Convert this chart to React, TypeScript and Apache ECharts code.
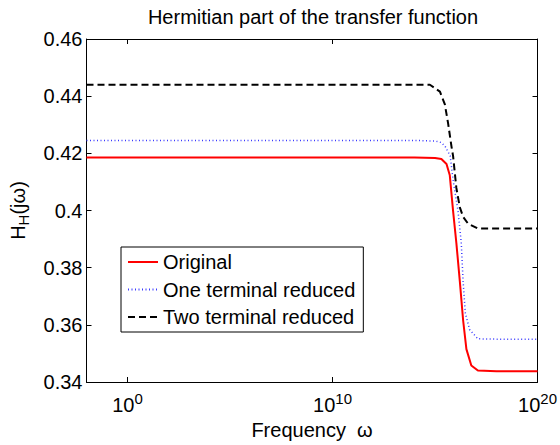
import React, { useEffect, useRef } from "react";
import * as echarts from "echarts";

// Frequency given as log10(omega) exponents
const originalX = [-2, 14, 15.0, 15.31, 15.56, 15.72, 15.88, 16.04, 16.21, 16.37, 16.53, 16.77, 17.09, 18, 20];
const originalY = [0.4185, 0.4185, 0.4184, 0.418, 0.4163, 0.4123, 0.3999, 0.3887, 0.3752, 0.3616, 0.3515, 0.3458, 0.344, 0.3438, 0.3438];

const oneTermX = [-2, 14, 15.0, 15.3, 15.49, 15.74, 15.88, 16.12, 16.28, 16.37, 16.48, 16.69, 17.09, 18, 20];
const oneTermY = [0.4245, 0.4245, 0.4243, 0.4238, 0.4225, 0.4191, 0.4107, 0.3999, 0.3887, 0.3752, 0.364, 0.3583, 0.3551, 0.355, 0.355];

const twoTermX = [-2, 14, 14.75, 15.24, 15.48, 15.64, 15.8, 15.88, 16.04, 16.21, 16.37, 16.61, 17.09, 18, 20];
const twoTermY = [0.444, 0.444, 0.444, 0.4416, 0.4371, 0.4304, 0.4225, 0.4191, 0.4079, 0.4011, 0.3978, 0.3954, 0.3937, 0.3937, 0.3937];

const xTickExponents = [0, 10, 20];
const seriesNames = ["Original", "One terminal reduced", "Two terminal reduced"];

const FONT = "'Liberation Sans', Arial, Helvetica, sans-serif";

const zip = (xs: number[], ys: number[]) => xs.map((x, i) => [x, ys[i]]);

export default function App() {
  const ref = useRef<HTMLDivElement>(null);
  useEffect(() => {
    if (!ref.current) return;
    const chart = echarts.init(ref.current, null, { renderer: "svg" });
    const grid = { left: 86, right: 20, top: 39, bottom: 51 };
    const axisLineStyle = { color: "#000", width: 1 };
    chart.setOption({
      animation: false,
      backgroundColor: "#fff",
      textStyle: { fontFamily: FONT },
      graphic: [
        {
          type: "text",
          x: 313,
          y: 7,
          style: {
            text: "Hermitian part of the transfer function",
            textAlign: "center",
            textVerticalAlign: "top",
            fontSize: 20,
            fontFamily: FONT,
            fill: "#000",
          },
        },
      ],
      grid,
      legend: {
        orient: "vertical",
        left: 121,
        top: 247,
        backgroundColor: "#fff",
        borderColor: "#000",
        borderWidth: 1,
        borderRadius: 0,
        padding: [5, 8, 5, 6],
        itemWidth: 30,
        itemHeight: 14,
        itemGap: 7.5,
        itemStyle: { color: "rgba(0,0,0,0)", borderColor: "rgba(0,0,0,0)", borderWidth: 0, opacity: 0 },
        textStyle: { fontSize: 20, fontFamily: FONT, color: "#000", lineHeight: 20 },
        data: seriesNames,
      },
      xAxis: [
        {
          type: "value",
          min: -2,
          max: 20,
          position: "bottom",
          name: "Frequency  \u03c9",
          nameLocation: "middle",
          nameGap: 38,
          nameTextStyle: { fontSize: 20, color: "#000", fontFamily: FONT },
          splitLine: { show: false },
          axisLine: { show: true, onZero: false, lineStyle: axisLineStyle },
          axisTick: { show: true, inside: true, length: 5, customValues: xTickExponents, lineStyle: axisLineStyle },
          axisLabel: {
            show: true,
            customValues: xTickExponents,
            margin: 9,
            formatter: (v: number) => `{b|10}{s|${Math.round(v)}}`,
            rich: {
              b: { fontSize: 20, fontFamily: FONT, color: "#000" },
              s: { fontSize: 15, fontFamily: FONT, color: "#000", padding: [0, 0, 12, 0] },
            },
          },
        },
        {
          type: "value",
          min: -2,
          max: 20,
          position: "top",
          splitLine: { show: false },
          axisLine: { show: true, onZero: false, lineStyle: axisLineStyle },
          axisTick: { show: true, inside: true, length: 5, customValues: xTickExponents, lineStyle: axisLineStyle },
          axisLabel: { show: false },
        },
      ],
      yAxis: [
        {
          type: "value",
          min: 0.34,
          max: 0.46,
          interval: 0.02,
          position: "left",
          name: "{m|H}{sub|H}{m|(j\u03c9)}",
          nameLocation: "middle",
          nameGap: 56,
          nameRotate: 90,
          nameTextStyle: {
            rich: {
              m: { fontSize: 20, fontFamily: FONT, color: "#000" },
              sub: { fontSize: 15, fontFamily: FONT, color: "#000", padding: [10, 0, 0, 0] },
            },
          },
          splitLine: { show: false },
          axisLine: { show: true, onZero: false, lineStyle: axisLineStyle },
          axisTick: { show: true, inside: true, length: 5, lineStyle: axisLineStyle },
          axisLabel: {
            fontSize: 20,
            color: "#000",
            fontFamily: FONT,
            margin: 4,
            formatter: (v: number) => String(+v.toFixed(2)),
          },
        },
        {
          type: "value",
          min: 0.34,
          max: 0.46,
          interval: 0.02,
          position: "right",
          splitLine: { show: false },
          axisLine: { show: true, onZero: false, lineStyle: axisLineStyle },
          axisTick: { show: true, inside: true, length: 5, lineStyle: axisLineStyle },
          axisLabel: { show: false },
        },
      ],
      series: [
        {
          name: seriesNames[0],
          type: "line",
          symbol: "none",
          data: zip(originalX, originalY),
          lineStyle: { color: "#ff0000", width: 2 },
          itemStyle: { color: "#ff0000" },
          z: 3,
        },
        {
          name: seriesNames[1],
          type: "line",
          symbol: "none",
          data: zip(oneTermX, oneTermY),
          lineStyle: { color: "#3a3aff", width: 1.5, type: [1, 2.5] },
          itemStyle: { color: "#3a3aff" },
          z: 2,
        },
        {
          name: seriesNames[2],
          type: "line",
          symbol: "none",
          data: zip(twoTermX, twoTermY),
          lineStyle: { color: "#000", width: 2, type: [7, 4] },
          itemStyle: { color: "#000" },
          z: 2,
        },
      ],
    });
    return () => chart.dispose();
  }, []);
  return <div ref={ref} style={{ position: "fixed", left: 0, top: 0, width: 560, height: 445 }} />;
}
